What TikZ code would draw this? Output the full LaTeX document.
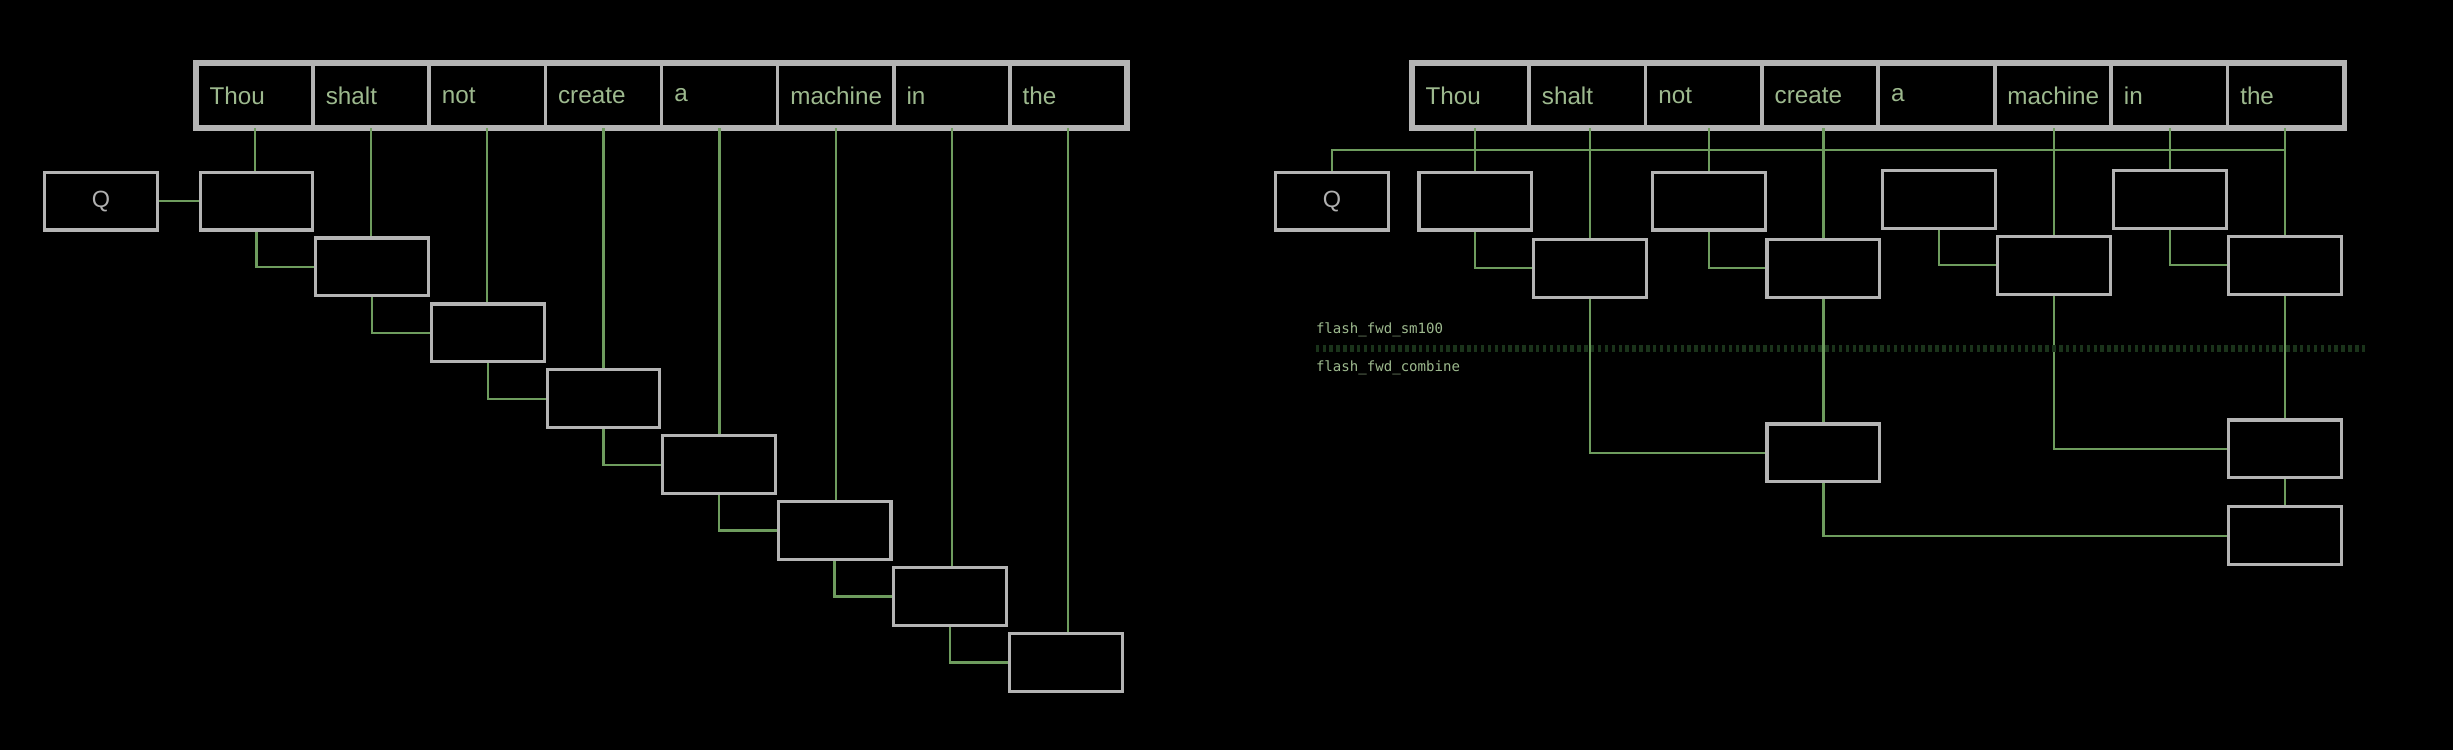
\documentclass[tikz,border=0pt]{standalone}
\usepackage{fontspec}
\setmainfont{Liberation Sans}
\setmonofont{DejaVu Sans Mono}
\begin{document}
\begin{tikzpicture}[x=1pt,y=-1pt,
  box/.style={draw=boxgray,line width=2pt,minimum width=72pt,minimum height=37pt,inner sep=0pt,text=qgray,font=\fontsize{15}{15}\selectfont},
  cell/.style={draw=boxgray,line width=2pt,minimum width=74pt,minimum height=40pt,text width=58pt,align=left,inner xsep=8pt,text=wordgreen,font=\fontsize{15.5}{15.5}\selectfont},
  wire/.style={draw=wire,line width=1.5pt},
  lbl/.style={font=\ttfamily\fontsize{9}{9}\selectfont,text=wordgreen,anchor=west,inner sep=0pt}]
\definecolor{boxgray}{HTML}{B4B4B4}
\definecolor{qgray}{HTML}{B0B0B0}
\definecolor{wordgreen}{HTML}{9DB98E}
\definecolor{wire}{HTML}{6E9C5E}
\definecolor{dashg}{HTML}{1A331A}
\useasboundingbox (0,0) rectangle (1568,479);
\fill[black] (-10,-10) rectangle (1580,490);
% ---------- left diagram ----------
\foreach \w [count=\i from 0] in {Thou,shalt,not,create,a,machine,in,the}{
  \node[cell] (L\i) at ({163+74.25*\i},61) {\w};
}
\draw[boxgray,line width=3pt] (L0.north west) rectangle (L7.south east);
\node[box] (LQ) at (64.5,128.5) {Q};
\foreach \i in {0,...,7}{
  \node[box] (LB\i) at ({164+73.9*\i},{128.5+42.14*\i}) {};
  \draw[wire] (L\i.south) -- (L\i.south |- LB\i.north);
}
\draw[wire] (LQ.east) -- (LB0.west);
\foreach \i [evaluate=\i as \j using int(\i+1)] in {0,...,6}{
  \draw[wire] (LB\i.south) |- (LB\j.west);
}
% ---------- right diagram ----------
\foreach \w [count=\i from 0] in {Thou,shalt,not,create,a,machine,in,the}{
  \node[cell] (R\i) at ({940.2+74.4*\i},61) {\w};
}
\draw[boxgray,line width=3pt] (R0.north west) rectangle (R7.south east);
\node[box] (RQ) at (851.5,128.5) {Q};
\node[box] (R0b) at (943,128.5) {};
\node[box] (R1b) at (1016.5,171.5) {};
\node[box] (R2b) at (1092.5,128.5) {};
\node[box] (R3b) at (1165.5,171.5) {};
\node[box] (R4b) at (1239.5,127.5) {};
\node[box] (R5b) at (1313,169.5) {};
\node[box] (R6b) at (1387,127.5) {};
\node[box] (R7b) at (1460.5,169.5) {};
\node[box] (CA) at (1165.5,289.5) {};
\node[box] (CB) at (1460.5,287) {};
\node[box] (CC) at (1460.5,342.5) {};
\coordinate (bus) at (1460.5,96);
\foreach \i in {0,1,2,3,5,6,7}{
  \draw[wire] (R\i.south -| R\i b.north) -- (R\i b.north);
}
\draw[wire] (RQ.north) |- (bus);
\draw[wire] (R0b.south) |- (R1b.west);
\draw[wire] (R2b.south) |- (R3b.west);
\draw[wire] (R4b.south) |- (R5b.west);
\draw[wire] (R6b.south) |- (R7b.west);
\draw[wire] (R1b.south) |- (CA.west);
\draw[wire] (R3b.south) -- (CA.north);
\draw[wire] (R5b.south) |- (CB.west);
\draw[wire] (R7b.south) -- (CB.north);
\draw[wire] (CB.south) -- (CC.north);
\draw[wire] (CA.south) |- (CC.west);
% divider
\coordinate (d1) at (841,222.8);
\coordinate (d2) at (1513,222.8);
\draw[dashg,line width=4pt,dash pattern=on 2.2pt off 2.2pt] (d1) -- (d2);
\node[lbl] (s100) at (841,211) {flash\_fwd\_sm100};
\node[lbl] (comb) at (841,235) {flash\_fwd\_combine};
\end{tikzpicture}
\end{document}
